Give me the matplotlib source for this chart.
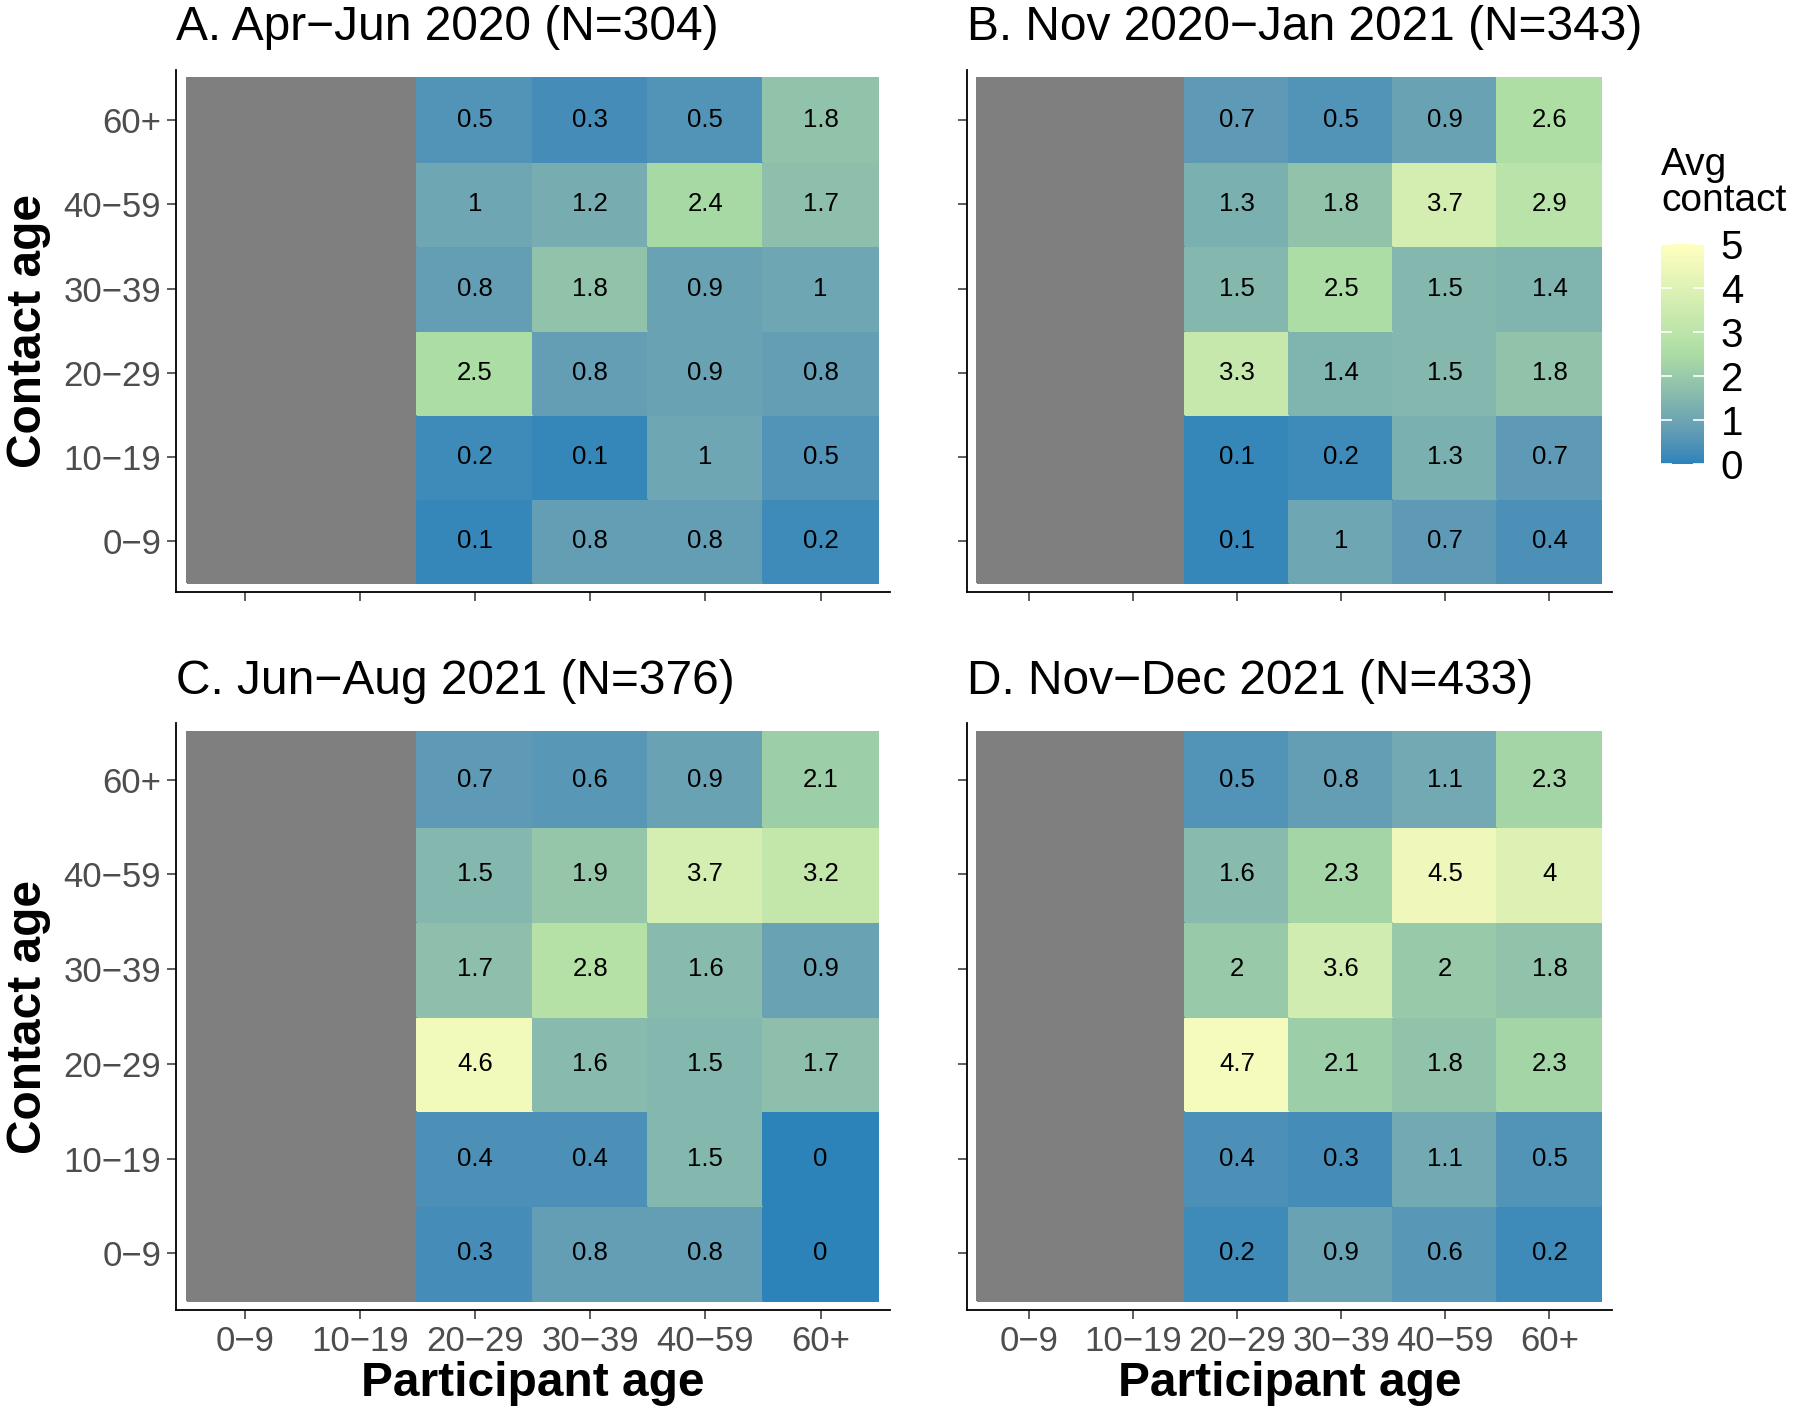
import numpy as np
import matplotlib
matplotlib.use("Agg")
import matplotlib.pyplot as plt
from matplotlib.colors import ListedColormap, Normalize, to_rgb
from matplotlib.cm import ScalarMappable

plt.rcParams["font.family"] = ["Liberation Sans", "DejaVu Sans"]

age_groups = ["0\u22129", "10\u221219", "20\u221229", "30\u221239", "40\u221259", "60+"]
nan = np.nan

# rows listed top (60+) to bottom (0-9), columns = participant age
contacts_a = [
    [nan, nan, 0.5, 0.3, 0.5, 1.8],
    [nan, nan, 1.0, 1.2, 2.4, 1.7],
    [nan, nan, 0.8, 1.8, 0.9, 1.0],
    [nan, nan, 2.5, 0.8, 0.9, 0.8],
    [nan, nan, 0.2, 0.1, 1.0, 0.5],
    [nan, nan, 0.1, 0.8, 0.8, 0.2],
]
contacts_b = [
    [nan, nan, 0.7, 0.5, 0.9, 2.6],
    [nan, nan, 1.3, 1.8, 3.7, 2.9],
    [nan, nan, 1.5, 2.5, 1.5, 1.4],
    [nan, nan, 3.3, 1.4, 1.5, 1.8],
    [nan, nan, 0.1, 0.2, 1.3, 0.7],
    [nan, nan, 0.1, 1.0, 0.7, 0.4],
]
contacts_c = [
    [nan, nan, 0.7, 0.6, 0.9, 2.1],
    [nan, nan, 1.5, 1.9, 3.7, 3.2],
    [nan, nan, 1.7, 2.8, 1.6, 0.9],
    [nan, nan, 4.6, 1.6, 1.5, 1.7],
    [nan, nan, 0.4, 0.4, 1.5, 0.0],
    [nan, nan, 0.3, 0.8, 0.8, 0.0],
]
contacts_d = [
    [nan, nan, 0.5, 0.8, 1.1, 2.3],
    [nan, nan, 1.6, 2.3, 4.5, 4.0],
    [nan, nan, 2.0, 3.6, 2.0, 1.8],
    [nan, nan, 4.7, 2.1, 1.8, 2.3],
    [nan, nan, 0.4, 0.3, 1.1, 0.5],
    [nan, nan, 0.2, 0.9, 0.6, 0.2],
]
titles = [
    "A. Apr\u2212Jun 2020 (N=304)",
    "B. Nov 2020\u2212Jan 2021 (N=343)",
    "C. Jun\u2212Aug 2021 (N=376)",
    "D. Nov\u2212Dec 2021 (N=433)",
]
palette = ["#2B83BA", "#ABDDA4", "#FFFFBF"]

# --- Lab interpolation (like ggplot's gradientn) ---
M = np.array([[0.4124, 0.3576, 0.1805],
              [0.2126, 0.7152, 0.0722],
              [0.0193, 0.1192, 0.9505]])
WHITE = np.array([0.95047, 1.0, 1.08883])


def to_lab(hexcol):
    c = np.array(to_rgb(hexcol))
    c = np.where(c <= 0.04045, c / 12.92, ((c + 0.055) / 1.055) ** 2.4)
    xyz = M @ c / WHITE
    f = np.where(xyz > 0.008856, np.cbrt(xyz), 7.787 * xyz + 16 / 116)
    return np.array([116 * f[1] - 16, 500 * (f[0] - f[1]), 200 * (f[1] - f[2])])


def from_lab(lab):
    fy = (lab[0] + 16) / 116
    f = np.array([fy + lab[1] / 500, fy, fy - lab[2] / 200])
    xyz = np.where(f ** 3 > 0.008856, f ** 3, (f - 16 / 116) / 7.787) * WHITE
    c = np.linalg.solve(M, xyz)
    c = np.where(c <= 0.0031308, 12.92 * c, 1.055 * np.clip(c, 0, None) ** (1 / 2.4) - 0.055)
    return np.clip(c, 0, 1)


labs = [to_lab(p) for p in palette]
samples = []
for t in np.linspace(0, 1, 256):
    pos = t * (len(labs) - 1)
    k = min(int(pos), len(labs) - 2)
    u = pos - k
    samples.append(from_lab(labs[k] * (1 - u) + labs[k + 1] * u))
cmap = ListedColormap(samples)
cmap.set_bad("#7F7F7F")
norm = Normalize(0, 5)
tick_col = "#4D4D4D"

W, H = 1800, 1418
fig = plt.figure(figsize=(18, 14.18), dpi=100)


def rect(x0, y0, x1, y1):
    return [x0 / W, 1 - y1 / H, (x1 - x0) / W, (y1 - y0) / H]


boxes = [
    (175.6, 69.7, 889.7, 591.6),
    (966.6, 69.7, 1611.9, 591.6),
    (175.6, 722.9, 889.7, 1310.2),
    (966.6, 722.9, 1611.9, 1310.2),
]
panels = [contacts_a, contacts_b, contacts_c, contacts_d]

for i, (vals, box, title) in enumerate(zip(panels, boxes, titles)):
    ax = fig.add_axes(rect(*box))
    grid = np.array(vals, dtype=float)[::-1]  # bottom row = 0-9
    edges = np.arange(7) - 0.5
    ax.pcolormesh(edges, edges, np.ma.masked_invalid(grid), cmap=cmap, norm=norm,
                  edgecolors="face", linewidth=0.3)
    for r in range(6):
        for c in range(6):
            v = grid[r, c]
            if not np.isnan(v):
                ax.text(c, r, f"{v:g}", ha="center", va="center", fontsize=18.5, color="black")
    ax.set_xlim(-0.6, 5.6)
    ax.set_ylim(-0.6, 5.6)
    ax.set_xticks(range(6))
    ax.set_yticks(range(6))
    ax.set_xticklabels(age_groups)
    ax.set_yticklabels(age_groups)
    for s in ["top", "right"]:
        ax.spines[s].set_visible(False)
    for s in ["left", "bottom"]:
        ax.spines[s].set_linewidth(1.3)
    ax.tick_params(length=6.5, width=1.1, color="#333333", labelcolor=tick_col,
                   labelsize=25, pad=4)
    if i < 2:
        ax.tick_params(axis="x", labelbottom=False)
    else:
        cx = (box[0] + box[2]) / 2
        fig.text(cx / W, 1 - 1383 / H, "Participant age", ha="center", va="center",
                 fontsize=34.5, fontweight="bold")
    if i % 2 == 1:
        ax.tick_params(axis="y", labelleft=False)
    else:
        cy = (box[1] + box[3]) / 2
        fig.text(29 / W, 1 - cy / H, "Contact age", ha="center", va="center",
                 rotation=90, fontsize=34.5, fontweight="bold")
    ty = 27.5 if i < 2 else 682
    fig.text(box[0] / W, 1 - ty / H, title, ha="left", va="center", fontsize=34.5)

# colour bar
cax = fig.add_axes(rect(1661, 244.5, 1704, 463.8))
cb = fig.colorbar(ScalarMappable(norm=norm, cmap=cmap), cax=cax, ticks=range(6))
cb.outline.set_visible(False)
cax.tick_params(left=True, right=True, direction="in", length=8, width=1.2,
                color="white", labelcolor="black", labelsize=29, pad=12)
fig.text(1661 / W, 1 - 147 / H, "Avg\ncontact", ha="left", va="top", fontsize=28,
         linespacing=1.0)

fig.savefig("out.png", dpi=100, facecolor="white")
